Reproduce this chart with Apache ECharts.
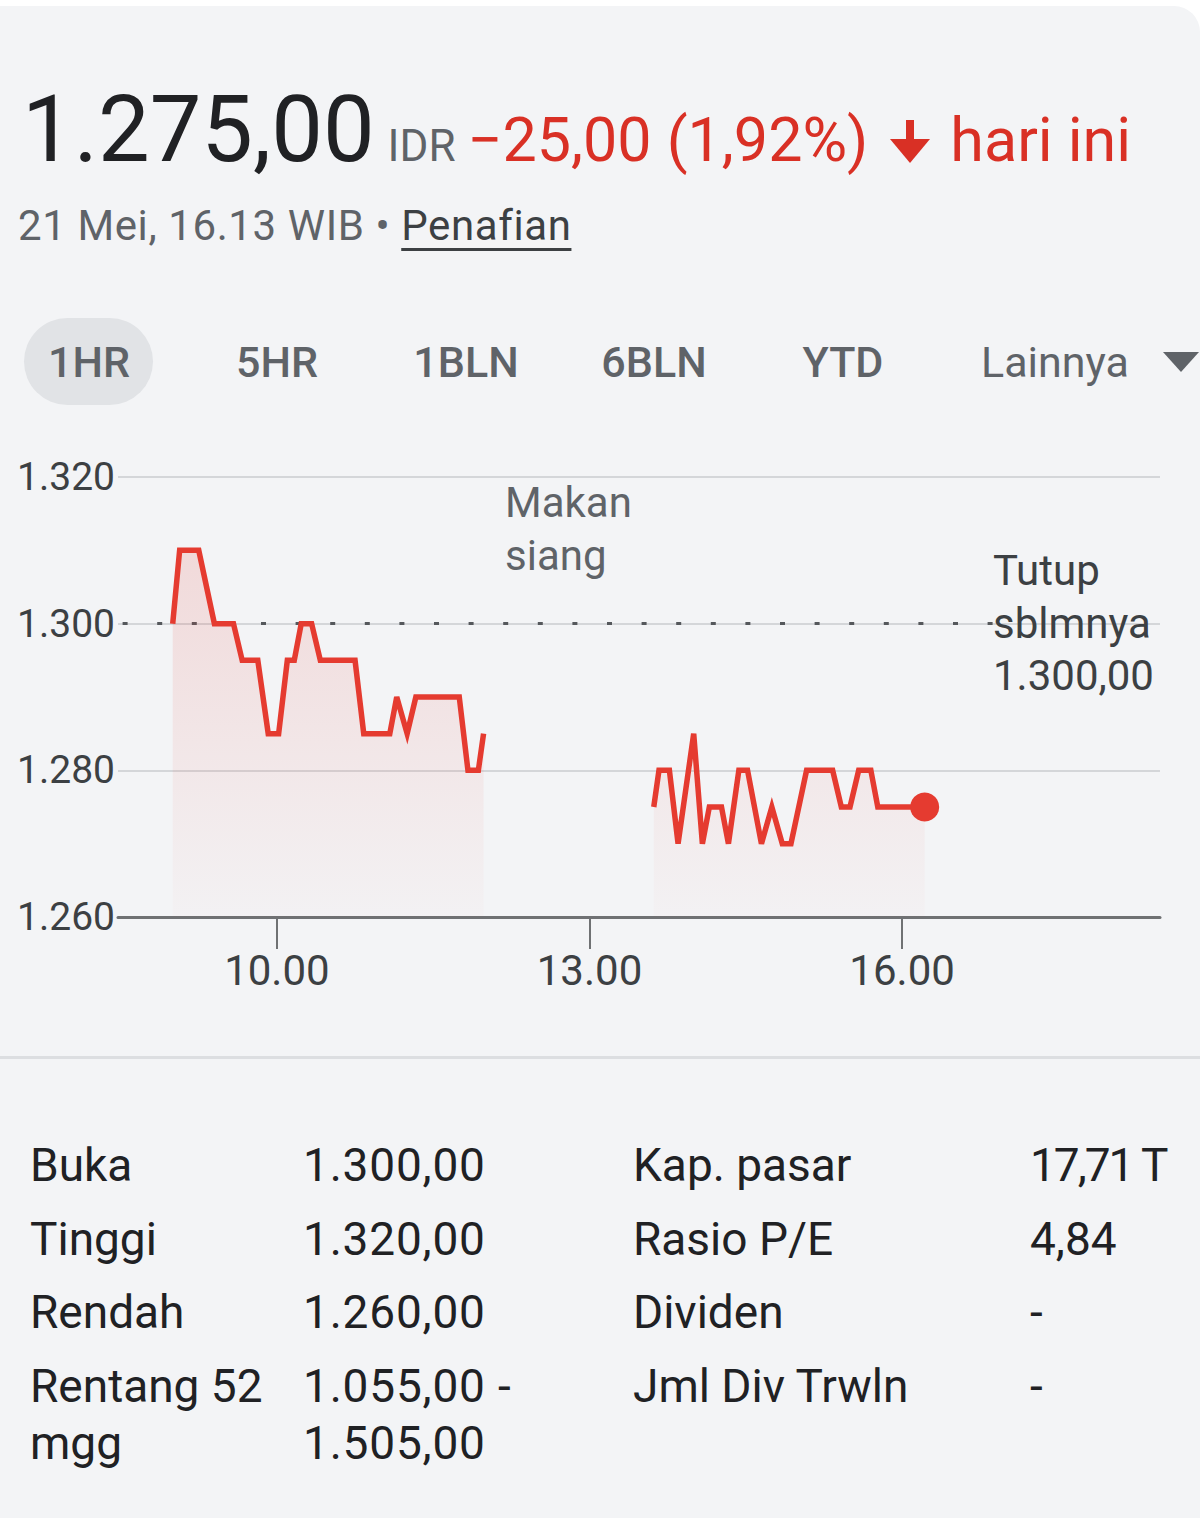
<!DOCTYPE html>
<html>
<head>
<meta charset="utf-8">
<script src="https://cdn.jsdelivr.net/npm/echarts@6/dist/echarts.min.js"></script>
<style>
  html, body { margin: 0; padding: 0; background: #ffffff; }
  body { width: 1200px; height: 1518px; position: relative; overflow: hidden; font-family: Roboto, "Noto Sans", sans-serif; }
  #card { position: absolute; left: 0; top: 6px; width: 1200px; height: 1512px; background: #f3f4f6; border-radius: 0 26px 0 0; }
  #chart { position: absolute; left: 0; top: 0; width: 1200px; height: 1518px; }
  .t { position: absolute; white-space: nowrap; line-height: 1; }
  #head { position: absolute; left: 22px; top: 84px; display: flex; align-items: baseline; white-space: nowrap; }
  #head span { line-height: 1; }
  .tab { position: absolute; top: 340px; height: 44px; line-height: 44px; font-size: 43px; color: #5f6368; font-weight: 500; transform: translateX(-50%); }
  .cell { position: absolute; font-size: 46px; line-height: 1; color: #202124; white-space: nowrap; }
</style>
</head>
<body>
<div id="card"></div>
<div id="chart"></div>

<div id="head">
  <span style="font-size:92px;color:#202124;">1.275,00</span>
  <span style="font-size:44px;color:#5f6368;margin-left:13px;">IDR</span>
  <span style="font-size:61px;color:#d93025;margin-left:12px;">−25,00 (1,92%)</span>
  <span style="margin-left:19px;display:inline-block;width:46px;"><svg width="46" height="46" viewBox="0 0 46 46" style="display:block;transform:translateY(4px)"><rect x="19" y="1" width="8" height="26" fill="#d93025"/><polygon points="3,20 43,20 23,44" fill="#d93025"/></svg></span>
  <span style="font-size:61px;color:#d93025;margin-left:17px;">hari ini</span>
</div>
<div class="t" style="left:18px;top:205px;font-size:42px;letter-spacing:0.6px;color:#5f6368;">21 Mei, 16.13 WIB • <span style="color:#3c4043;text-decoration:underline;text-underline-offset:8px;text-decoration-thickness:3px;">Penafian</span></div>

<div style="position:absolute;left:24px;top:318px;width:129px;height:87px;border-radius:44px;background:#e1e3e6;"></div>
<div class="tab" style="left:89px;">1HR</div>
<div class="tab" style="left:277px;">5HR</div>
<div class="tab" style="left:466px;">1BLN</div>
<div class="tab" style="left:654px;">6BLN</div>
<div class="tab" style="left:843px;">YTD</div>
<div class="tab" style="left:1055px;font-weight:400;">Lainnya</div>
<div style="position:absolute;left:1163px;top:352px;width:0;height:0;border-left:18px solid transparent;border-right:18px solid transparent;border-top:20px solid #5f6368;"></div>

<div class="t" style="left:505px;top:476px;font-size:42px;line-height:53px;color:#5f6368;white-space:normal;width:160px;">Makan<br>siang</div>
<div class="t" id="prevLbl" style="left:993px;top:545px;font-size:42px;line-height:52.5px;color:#3c4043;">Tutup<br>sblmnya<br><span id="prevVal"></span></div>

<div style="position:absolute;left:0;top:1056px;width:1200px;height:3px;background:#dcdee1;"></div>

<div class="cell" style="left:30px;top:1142px;">Buka</div>
<div class="cell" style="left:303px;top:1142px;letter-spacing:0.8px;">1.300,00</div>
<div class="cell" style="left:633px;top:1142px;">Kap. pasar</div>
<div class="cell" style="left:1030px;top:1142px;letter-spacing:-2px;">17,71 T</div>

<div class="cell" style="left:30px;top:1216px;">Tinggi</div>
<div class="cell" style="left:303px;top:1216px;letter-spacing:0.8px;">1.320,00</div>
<div class="cell" style="left:633px;top:1216px;">Rasio P/E</div>
<div class="cell" style="left:1030px;top:1216px;">4,84</div>

<div class="cell" style="left:30px;top:1289px;">Rendah</div>
<div class="cell" style="left:303px;top:1289px;letter-spacing:0.8px;">1.260,00</div>
<div class="cell" style="left:633px;top:1289px;">Dividen</div>
<div class="cell" style="left:1030px;top:1289px;">-</div>

<div class="cell" style="left:30px;top:1363px;">Rentang 52</div>
<div class="cell" style="left:303px;top:1363px;letter-spacing:0.8px;">1.055,00 -</div>
<div class="cell" style="left:633px;top:1363px;">Jml Div Trwln</div>
<div class="cell" style="left:1030px;top:1363px;">-</div>

<div class="cell" style="left:30px;top:1420px;">mgg</div>
<div class="cell" style="left:303px;top:1420px;letter-spacing:0.8px;">1.505,00</div>

<script>
// ---- data ----
const morningTimes = ['09:00','09:04','09:15','09:24','09:35','09:40','09:49','09:55','10:01','10:06','10:10','10:14','10:20','10:25','10:45','10:50','11:05','11:09','11:15','11:20','11:45','11:50','11:56','11:59'];
const morningPrices = [1300,1310,1310,1300,1300,1295,1295,1285,1285,1295,1295,1300,1300,1295,1295,1285,1285,1290,1285,1290,1290,1280,1280,1285];
const afternoonTimes = ['13:37','13:40','13:46','13:51','14:00','14:05','14:09','14:16','14:20','14:26','14:31','14:39','14:45','14:51','14:56','15:05','15:20','15:25','15:30','15:35','15:42','15:46','16:13'];
const afternoonPrices = [1275,1280,1280,1270,1285,1270,1275,1275,1270,1280,1280,1270,1275,1270,1270,1280,1280,1275,1275,1280,1280,1275,1275];
const prevClose = 1300;
const yTicks = [1260, 1280, 1300, 1320];
const xTickTimes = ['10:00','13:00','16:00'];
const xMinMinutes = 508.5;   // axis start (about 08:28)
const xMaxMinutes = 1108.5;  // axis end (about 18:28)
const prevLineEnd = '16:54';

// ---- helpers ----
const toMin = s => { const p = s.split(':'); return (+p[0]) * 60 + (+p[1]); };
const fmtY = v => Math.floor(v / 1000) + '.' + String(Math.round(v % 1000)).padStart(3, '0');
const fmtX = m => Math.floor(m / 60) + '.' + String(Math.round(m % 60)).padStart(2, '0');
const zip = (ts, vs) => ts.map((t, i) => [toMin(t), vs[i]]);

document.getElementById('prevVal').textContent = fmtY(prevClose) + ',00';

const red = '#e53b30';
const areaGrad = new echarts.graphic.LinearGradient(0, 477, 0, 917, [
  { offset: 0, color: 'rgba(229,59,48,0.24)' },
  { offset: 1, color: 'rgba(229,59,48,0.02)' }
], true);

const lineSeries = (data) => ({
  type: 'line',
  data: data,
  showSymbol: false,
  symbol: 'none',
  silent: true,
  animation: false,
  lineStyle: { color: red, width: 5.5, join: 'miter' },
  areaStyle: { color: areaGrad, origin: 'start' },
  z: 3
});

const xTicks = xTickTimes.map(toMin);
const afternoonData = zip(afternoonTimes, afternoonPrices);
const last = afternoonData[afternoonData.length - 1];

const chart = echarts.init(document.getElementById('chart'), null, { renderer: 'svg' });
chart.setOption({
  backgroundColor: 'transparent',
  animation: false,
  grid: { left: 118, right: 40, top: 477, bottom: 601, containLabel: false },
  xAxis: {
    type: 'value',
    min: xMinMinutes,
    max: xMaxMinutes,
    splitLine: { show: false },
    axisLine: { show: true, lineStyle: { color: '#6f7173', width: 3 } },
    axisTick: { show: true, customValues: xTicks, length: 32, lineStyle: { color: '#6f7173', width: 2 } },
    axisLabel: { show: true, customValues: xTicks, formatter: fmtX, fontSize: 42, color: '#3c4043', margin: 32, fontFamily: 'Roboto' }
  },
  yAxis: {
    type: 'value',
    min: yTicks[0],
    max: yTicks[yTicks.length - 1],
    interval: yTicks[1] - yTicks[0],
    axisLine: { show: false },
    axisTick: { show: false },
    splitLine: { show: true, lineStyle: { color: '#d4d6d9', width: 2 } },
    axisLabel: { formatter: fmtY, fontSize: 39, color: '#3c4043', margin: 3, fontFamily: 'Roboto' }
  },
  series: [
    Object.assign(lineSeries(zip(morningTimes, morningPrices)), {
      markLine: {
        silent: true,
        symbol: ['none', 'none'],
        label: { show: false },
        z: 2,
        lineStyle: { color: '#55585c', width: 3, type: [5, 29.6], dashOffset: 29.6 },
        data: [[{ coord: [xMinMinutes, prevClose] }, { coord: [toMin(prevLineEnd), prevClose] }]]
      }
    }),
    lineSeries(afternoonData),
    {
      type: 'scatter',
      data: [last],
      symbol: 'circle',
      symbolSize: 29,
      itemStyle: { color: red, opacity: 1 },
      silent: true,
      z: 4
    }
  ]
});
</script>
</body>
</html>
